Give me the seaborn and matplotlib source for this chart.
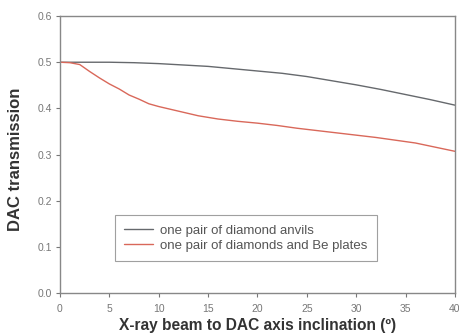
import matplotlib
matplotlib.use("Agg")
import matplotlib.pyplot as plt
import pandas as pd
import seaborn as sns

# values
angle_anvils = [0, 2.5, 5, 7.5, 10, 12.5, 15, 17.5, 20, 22.5, 25, 27.5, 30, 32.5, 35, 37.5, 40]
trans_anvils = [0.500, 0.500, 0.500, 0.499, 0.497, 0.494, 0.491, 0.486, 0.481,
                0.476, 0.469, 0.460, 0.451, 0.441, 0.430, 0.419, 0.407]

angle_be = [0, 1, 2, 3, 4, 5, 6, 7, 8, 9, 10, 12, 14, 16, 18, 20, 22, 24, 26, 28, 30, 32, 34, 36, 38, 40]
trans_be = [0.500, 0.499, 0.495, 0.480, 0.466, 0.453, 0.442, 0.429, 0.420, 0.410,
            0.404, 0.394, 0.384, 0.377, 0.372, 0.368, 0.363, 0.357, 0.352, 0.347,
            0.342, 0.337, 0.331, 0.325, 0.316, 0.307]

label_anvils = "one pair of diamond anvils"
label_be = "one pair of diamonds and Be plates"

df = pd.concat([
    pd.DataFrame({"angle": angle_anvils, "trans": trans_anvils, "setup": label_anvils}),
    pd.DataFrame({"angle": angle_be, "trans": trans_be, "setup": label_be}),
])

sns.set_style("ticks")
plt.rcParams["font.family"] = ["Liberation Sans", "DejaVu Sans"]

fig, ax = plt.subplots(figsize=(4.6, 3.35), dpi=100)
fig.subplots_adjust(left=0.1304, right=0.989, top=0.952, bottom=0.1254)

sns.lineplot(data=df, x="angle", y="trans", hue="setup",
             palette={label_anvils: "#66696d", label_be: "#d9685a"},
             linewidth=1.0, ax=ax)

ax.set_xlim(0, 40)
ax.set_ylim(0, 0.6)
ax.set_xticks(range(0, 41, 5))
ax.set_yticks([0, 0.1, 0.2, 0.3, 0.4, 0.5, 0.6])
ax.set_yticklabels(["0.0", "0.1", "0.2", "0.3", "0.4", "0.5", "0.6"])
ax.tick_params(labelsize=7.5, colors="#777777", length=3, width=0.8, pad=3)
ax.tick_params(axis="x", pad=5)

for s in ax.spines.values():
    s.set_color("#888888")
    s.set_linewidth(1.0)

ax.set_xlabel("X-ray beam to DAC axis inclination (º)", fontsize=11.2, fontweight="bold",
              color="#333333", labelpad=3)
ax.set_ylabel("DAC transmission", fontsize=12, fontweight="bold", color="#333333")
ax.yaxis.set_label_coords(-0.094, 0.482)

leg = ax.legend(loc="lower left", bbox_to_anchor=(0.139, 0.1155), borderaxespad=0,
                fontsize=9.5, frameon=True, fancybox=False, edgecolor="#888888",
                handlelength=2.2, handletextpad=0.55, borderpad=0.7, labelspacing=0.2)
leg.get_frame().set_linewidth(0.8)
for t in leg.get_texts():
    t.set_color("#555555")

fig.savefig("out.png", dpi=100)
